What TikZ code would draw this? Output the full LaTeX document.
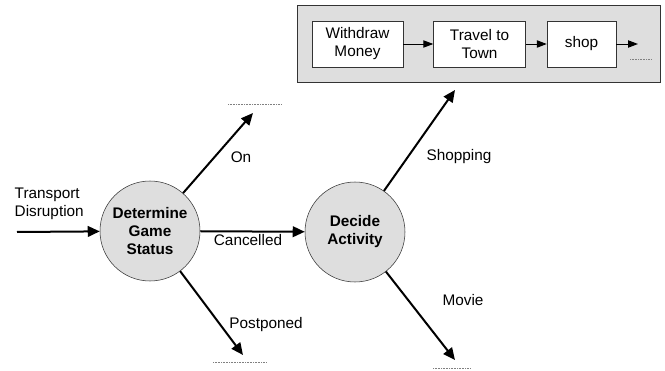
\documentclass[tikz,border=0pt]{standalone}
\usepackage{fontspec}
\setmainfont{Liberation Sans}
\usetikzlibrary{arrows.meta,positioning}
\tikzstyle{process}=[draw=black!80,fill=black!13,circle,minimum size=75pt,inner sep=0pt,align=center,font=\fontsize{11.5}{13.5}\selectfont\bfseries]
\tikzstyle{stepbox}=[draw=black!80,fill=white,rectangle,minimum height=34.5pt,inner sep=2pt,align=center]
\tikzstyle{flow}=[-{Triangle[length=9pt,width=8pt]},line width=1.5pt]
\tikzstyle{link}=[-{Triangle[length=7.5pt,width=5.5pt]},line width=0.75pt]
\tikzstyle{open}=[dash pattern=on 0.6pt off 0.6pt,black!50,line width=0.6pt]

\begin{document}
\begin{tikzpicture}[x=0.75pt,y=-0.75pt,font=\fontsize{11.5}{13.5}\selectfont]
\useasboundingbox (0,0) rectangle (665,371);
% shopping activities
\draw [draw=black!80,fill=black!13] (297,5) rectangle (660,82);
\node [stepbox,minimum width=68.25pt] (withdraw) at (357.5,44) {Withdraw\\Money};
\node [stepbox,minimum width=69pt,right=22.5pt of withdraw] (travel) {Travel to\\Town};
\node [stepbox,minimum width=51.75pt,right=15.75pt of travel] (shop) {shop};
\coordinate (shopend) at (638,44);
\draw [link] (withdraw) -- (travel);
\draw [link] (travel) -- (shop);
\draw [link] (shop) -- (shopend);
\draw [open] (630,59) -- (652,59);

% processes
\node [process] (status) at (150,231) {Determine\\Game\\Status};
\node [process] (decide) at (355,232) {Decide\\Activity};

% loose ends
\coordinate (start) at (17,232);
\coordinate (onend) at (253,113);
\coordinate (postend) at (243,355);
\coordinate (shopin) at (455,90);
\coordinate (movieend) at (455,360);
\draw [open] (228,104) -- (281,104);
\draw [open] (213,362) -- (266,362);
\draw [open] (433,368) -- (471,368);

% flows
\draw [flow] (start) -- (status);
\draw [flow] (status) -- (onend);
\draw [flow] (status) -- (decide);
\draw [flow] (status) -- (postend);
\draw [flow] (decide) -- (shopin);
\draw [flow] (decide) -- (movieend);

% labels
\node [anchor=west,align=left] (transport) at (10,204) {Transport\\Disruption};
\node (on) at (241,157) {On};
\node (cancelled) at (248,240) {Cancelled};
\node (postponed) at (266,325) {Postponed};
\node (shopping) at (459,157) {Shopping};
\node (movie) at (463,300) {Movie};
\end{tikzpicture}
\end{document}
